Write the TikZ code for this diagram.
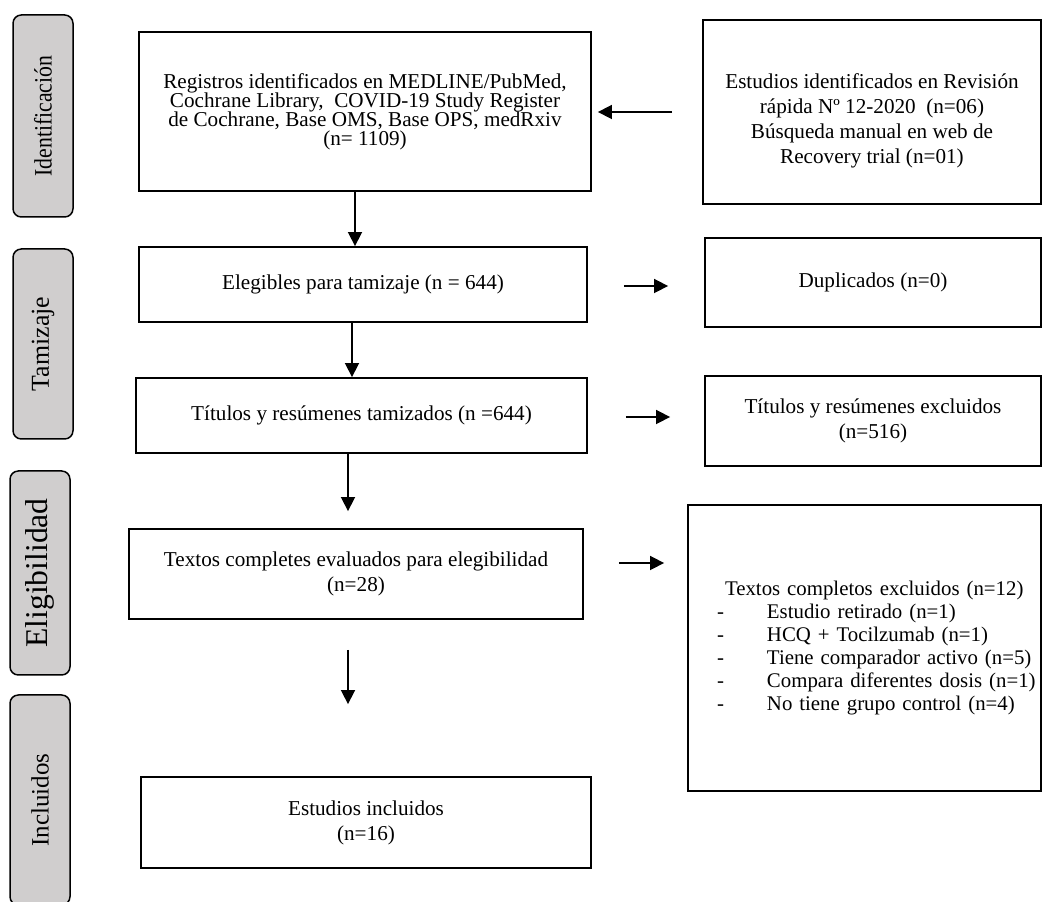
\documentclass[tikz,border=0pt]{standalone}
\usepackage{fontspec}
\setmainfont{Liberation Serif}
\usetikzlibrary{%
  arrows.meta% Triangle tips
}
\definecolor{sidegray}{RGB}{208,206,206}
\tikzset{
  box/.style={draw, line width=1.1pt, inner sep=0pt, align=center},
  side/.style={draw, line width=0.9pt, fill=sidegray, rounded corners=5pt,
    rotate=90, inner sep=0pt, minimum height=36pt},
}
\newcommand{\exclitem}[1]{\hspace*{17.4pt}\makebox[30pt][l]{-}#1}
\newcommand{\tightlines}{\lineskiplimit=-5pt\relax}

\begin{document}
\begin{tikzpicture}[x=0.6pt, y=-0.6pt, >={Triangle[length=8.4pt,width=8.4pt]},
    line width=1pt, font=\fontsize{12.7}{15}\selectfont]
    \useasboundingbox (0,0) rectangle (1044,902);
    %phases
    \node[side, minimum width=121.2pt, font=\fontsize{15}{15}\selectfont] (identificacion) at (43,116) {\scalebox{0.87}[1]{Identificación}};
    \node[side, minimum width=114pt, font=\fontsize{15.5}{15}\selectfont] (tamizaje) at (43,344) {Tamizaje};
    \node[side, minimum width=122.4pt, font=\fontsize{19}{15}\selectfont] (eligibilidad) at (40,573) {Eligibilidad};
    \node[side, minimum width=126pt, font=\fontsize{15}{15}\selectfont] (incluidos-fase) at (40,800) {Incluidos};

    %main path
     \node[box, minimum width=271.2pt, minimum height=95.4pt, font=\fontsize{12.7}{11.4}\selectfont\tightlines] (registros) at (365,111.5)
       {Registros identificados en MEDLINE/PubMed,\\ Cochrane Library,\ \ COVID-19 Study Register\\ de Cochrane, Base OMS, Base OPS, medRxiv\\ (n= 1109)};
     \node[box, minimum width=268.8pt, minimum height=45pt] (elegibles) at (363,284.5) {Elegibles para tamizaje (n = 644)};
     \node[box, minimum width=270.6pt, minimum height=45pt] (titulos) at (361.5,415.5) {Títulos y resúmenes tamizados (n =644)};
     \node[box, minimum width=272.4pt, minimum height=54pt] (textos) at (356,574) {Textos completes evaluados para elegibilidad\\ (n=28)};
     \node[box, minimum width=270pt, minimum height=54.6pt] (incluidos) at (366,822.5) {Estudios incluidos\\ (n=16)};

    %side boxes
     \node[box, minimum width=202.8pt, minimum height=110.4pt] (revision) at (872,112)
       {\rule{0pt}{19pt}Estudios identificados en Revisión\\ rápida Nº 12-2020\ \ (n=06)\\ Búsqueda manual en web de\\ Recovery trial (n=01)};
     \node[box, minimum width=201.6pt, minimum height=53.4pt] (duplicados) at (873,282.5) {Duplicados (n=0)};
     \node[box, minimum width=201.6pt, minimum height=54pt] (titulos-excl) at (873,421) {Títulos y resúmenes excluidos\\ (n=516)};
     \node[box, minimum width=211.8pt, minimum height=171.6pt, text width=211.8pt, align=left,
       font=\fontsize{12.5}{13.8}\selectfont] (textos-excl) at (864.5,648)
       {\hspace*{22.2pt}Textos completos excluidos (n=12)\\
        \exclitem{Estudio retirado (n=1)}\\
        \exclitem{HCQ + Tocilzumab (n=1)}\\
        \exclitem{Tiene comparador activo (n=5)}\\
        \exclitem{Compara diferentes dosis (n=1)}\\
        \exclitem{No tiene grupo control (n=4)}};

     \path[->]
     (revision.west) edge[shorten <=18pt, shorten >=3.6pt] (revision.west -| registros.east)
     ([xshift=-6pt]registros.south) edge ([xshift=-6pt]registros.south |- elegibles.north)
     ([xshift=-6.6pt]elegibles.south) edge ([xshift=-6.6pt]elegibles.south |- titulos.north)
     ([xshift=-8.1pt]titulos.south) edge[shorten >=10.2pt] ([xshift=-8.1pt]titulos.south |- textos.north)
     ([xshift=-4.8pt]textos.south) edge[shorten <=18pt, shorten >=43.2pt] ([xshift=-4.8pt]textos.south |- incluidos.north)
     ([yshift=-0.9pt]elegibles.east) edge[shorten <=21.6pt, shorten >=21.6pt] ([yshift=-0.9pt]elegibles.east -| duplicados.west)
     ([yshift=-0.9pt]titulos.east) edge[shorten <=22.8pt, shorten >=20.4pt] ([yshift=-0.9pt]titulos.east -| titulos-excl.west)
     ([yshift=6.6pt]textos.east) edge[shorten <=21pt, shorten >=13.8pt] ([yshift=6.6pt]textos.east -| textos-excl.west);
\end{tikzpicture}
\end{document}
